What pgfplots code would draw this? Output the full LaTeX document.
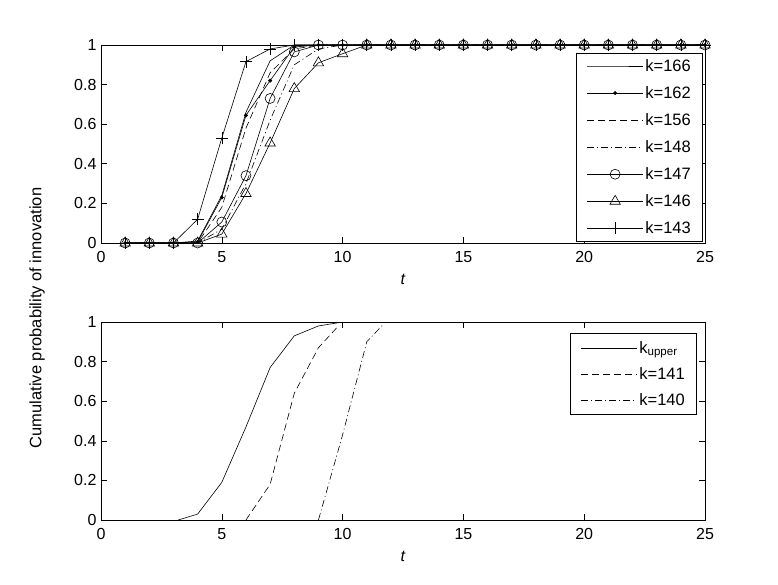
\documentclass[border=0pt]{standalone}
\usepackage{pgfplots}
\usepackage{pgfplotstable}
\pgfplotsset{compat=1.18}
\usepackage{fontspec}
\setmainfont{Liberation Sans}

\pgfplotstableread{
t  k166  k162  k156  k148  k147  k146   k143
1  0     0     0     0     0     0      0
2  0     0     0     0     0     0      0
3  0     0     0     0     0     0      0
4  0.01  0.005 0     0     0     0      0.12
5  0.24  0.23  0.18  0.07  0.106 0.045  0.53
6  0.66  0.645 0.58  0.30  0.34  0.25   0.916
7  0.92  0.82  0.86  0.62  0.73  0.505  0.98
8  1     0.99  0.98  0.90  0.965 0.78   1
9  1     1     1     0.98  1     0.91   1
10 1     1     1     1     1     0.956  1
11 1     1     1     1     1     1      1
12 1     1     1     1     1     1      1
13 1     1     1     1     1     1      1
14 1     1     1     1     1     1      1
15 1     1     1     1     1     1      1
16 1     1     1     1     1     1      1
17 1     1     1     1     1     1      1
18 1     1     1     1     1     1      1
19 1     1     1     1     1     1      1
20 1     1     1     1     1     1      1
21 1     1     1     1     1     1      1
22 1     1     1     1     1     1      1
23 1     1     1     1     1     1      1
24 1     1     1     1     1     1      1
25 1     1     1     1     1     1      1
}\topdata

\pgfplotsset{
  mstyle/.style={
    scale only axis, width=604pt, height=198pt,
    xmin=0, xmax=25, ymin=0, ymax=1,
    xtick={0,5,...,25}, ytick={0,0.2,...,1},
    tick align=inside, major tick length=6pt,
    tick style={black, line width=0.6pt},
    axis line style={line width=0.7pt},
    /pgf/number format/assume math mode=true,
    tick label style={font=\fontsize{16}{18}\selectfont},
    xticklabel style={yshift=-5pt},
    yticklabel style={xshift=-1pt},
    xlabel={\textit{t}}, xlabel style={font=\fontsize{16}{18}\selectfont, yshift=-4pt},
    legend cell align=left,
    legend style={font=\fontsize{16.5}{19}\selectfont, draw=black, line width=0.7pt,
      inner xsep=10pt, inner ysep=4pt, row sep=9.6pt},
    legend image code/.code={\draw[mark repeat=2,mark phase=2] plot coordinates {(0pt,0pt)(28pt,0pt)(56pt,0pt)};},
    every axis plot/.append style={black, line width=0.6pt},
  },
  dsh/.style={dash pattern=on 7pt off 4pt},
  dd/.style={dash pattern=on 7pt off 3pt on 1pt off 3pt},
}

\begin{document}
\begin{tikzpicture}
\useasboundingbox (0pt,0pt) rectangle (778pt,584pt);

\begin{axis}[mstyle, at={(101pt,341pt)}, anchor=south west,
  legend style={at={(0.997,0.96)}, anchor=north east}]
\addplot[no markers] table[x=t,y=k166] {\topdata};
\addplot[mark=*, mark size=1.6pt] table[x=t,y=k162] {\topdata};
\addplot[no markers, dsh] table[x=t,y=k156] {\topdata};
\addplot[no markers, dd] table[x=t,y=k148] {\topdata};
\addplot[mark=o, mark size=5pt] table[x=t,y=k147] {\topdata};
\addplot[mark=triangle, mark size=6pt] table[x=t,y=k146] {\topdata};
\addplot[mark=+, mark size=6pt] table[x=t,y=k143] {\topdata};
\legend{k=166,k=162,k=156,k=148,k=147,k=146,k=143}
\end{axis}

\begin{axis}[mstyle, at={(101pt,64pt)}, anchor=south west,
  legend style={at={(0.987,0.944)}, anchor=north east, row sep=8.5pt, inner ysep=6pt}]
\addplot[no markers] coordinates {(3.2,0)(4,0.03)(5,0.19)(6,0.47)(7,0.77)(8,0.93)(9,0.98)(10,1)};
\addplot[no markers, dsh] coordinates {(6,0)(7,0.18)(8,0.64)(9,0.87)(9.75,0.97)};
\addplot[no markers, dd] coordinates {(9,0)(10,0.43)(11,0.9)(11.7,0.99)};
\legend{k\textsubscript{upper},k=141,k=140}
\end{axis}

\node[rotate=90, font=\fontsize{16.5}{19}\selectfont] at (37pt,266pt) {Cumulative probability of innovation};
\end{tikzpicture}
\end{document}
